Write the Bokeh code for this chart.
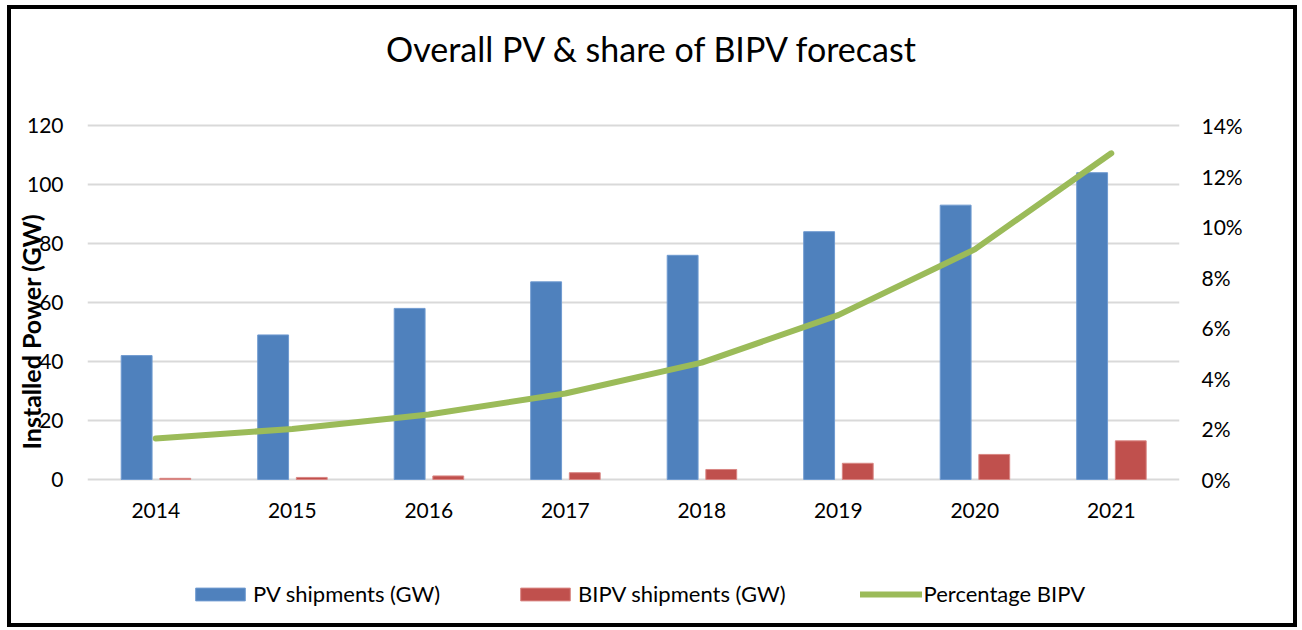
from bokeh.plotting import figure
from bokeh.models import (Range1d, LinearAxis, FixedTicker, NumeralTickFormatter,
                          Legend, LegendItem, FactorRange, ColumnDataSource, Label)
from bokeh.transform import dodge
from bokeh.embed import file_html
from bokeh.resources import INLINE

years = ["2014", "2015", "2016", "2017", "2018", "2019", "2020", "2021"]
pv_shipments = [42, 49, 58, 67, 76, 84, 93, 104]
bipv_shipments = [0.4, 0.7, 1.2, 2.3, 3.4, 5.5, 8.5, 13.1]
pct_bipv = [0.0162, 0.0200, 0.0257, 0.0340, 0.0462, 0.0650, 0.0910, 0.1290]
left_ticks = [0, 20, 40, 60, 80, 100, 120]
right_ticks = [0, 0.02, 0.04, 0.06, 0.08, 0.10, 0.12, 0.14]

FONT = "Lato"
BLUE = "#4F81BD"
RED = "#C0504D"
GREEN = "#9BBB59"

# frame covers the whole inner height; value axis 0..120 occupies 354 px of it
PX_PER_UNIT = 354 / 120
Y_END = 120 + 116 / PX_PER_UNIT
Y_START = -(614 - 470) / PX_PER_UNIT

src = ColumnDataSource(dict(year=years, pv=pv_shipments, bipv=bipv_shipments, pct=pct_bipv))

p = figure(x_range=FactorRange(*years), y_range=Range1d(Y_START, Y_END),
           frame_width=1092, frame_height=614, output_backend="svg", toolbar_location=None,
           min_border_left=76, min_border_right=114, min_border_top=0, min_border_bottom=0)
p.styles = {"border": "4px solid black", "margin-left": "7px", "margin-top": "5px"}
p.outline_line_color = None
p.extra_y_ranges = {"pct": Range1d(Y_START * 0.14 / 120, Y_END * 0.14 / 120)}

r_pv = p.vbar(x=dodge("year", -0.14, range=p.x_range), top="pv", width=0.226, source=src,
              fill_color=BLUE, line_color="#6f9ad0", line_width=1)
r_bipv = p.vbar(x=dodge("year", 0.143, range=p.x_range), top="bipv", width=0.226, source=src,
                fill_color=RED, line_color="#d98683", line_width=1)
r_pct = p.line(x="year", y="pct", source=src, y_range_name="pct",
               line_color=GREEN, line_width=6, line_cap="round", line_join="round")

# axes
p.yaxis.ticker = FixedTicker(ticks=left_ticks)
right = LinearAxis(y_range_name="pct", ticker=FixedTicker(ticks=right_ticks),
                   formatter=NumeralTickFormatter(format="0%"))
p.add_layout(right, "right")

for ax in [p.yaxis[0], right, p.xaxis[0]]:
    ax.axis_line_color = None
    ax.major_tick_line_color = None
    ax.minor_tick_line_color = None
    ax.major_label_text_font = FONT
    ax.major_label_text_font_size = "21px"
    ax.major_label_text_color = "#000000"
p.yaxis[0].major_label_standoff = 18
right.major_label_standoff = 16
p.xaxis[0].major_label_standoff = -127

yax = p.yaxis[0]
yax.axis_label = "Installed Power (GW)" + "\u00a0" * 5
yax.axis_label_text_font = FONT
yax.axis_label_text_font_size = "25px"
yax.axis_label_text_font_style = "bold"
yax.axis_label_text_color = "#000000"
yax.axis_label_standoff = -22

p.xgrid.grid_line_color = None
p.ygrid.grid_line_color = "#d9d9d9"
p.ygrid.grid_line_width = 2
p.ygrid.ticker = FixedTicker(ticks=left_ticks)

# chart title
p.add_layout(Label(x=565, y=120 + (116 - 39) / PX_PER_UNIT, x_units="screen",
                   text="Overall PV & share of BIPV forecast", text_font=FONT,
                   text_font_size="34px", text_align="center", text_baseline="middle",
                   text_color="#000000"))

legend = Legend(items=[LegendItem(label="PV shipments (GW)", renderers=[r_pv]),
                       LegendItem(label="BIPV shipments (GW)", renderers=[r_bipv]),
                       LegendItem(label="Percentage BIPV", renderers=[r_pct])],
                orientation="horizontal", location=(102, 16))
legend.label_text_font = FONT
legend.label_text_font_size = "22px"
legend.label_text_color = "#000000"
legend.glyph_width = 62
legend.glyph_height = 16
legend.label_standoff = 2
legend.spacing = 74
legend.padding = 0
legend.margin = 0
legend.border_line_color = None
legend.background_fill_alpha = 0
p.add_layout(legend, "center")

open("out.html", "w").write(file_html(p, INLINE))
